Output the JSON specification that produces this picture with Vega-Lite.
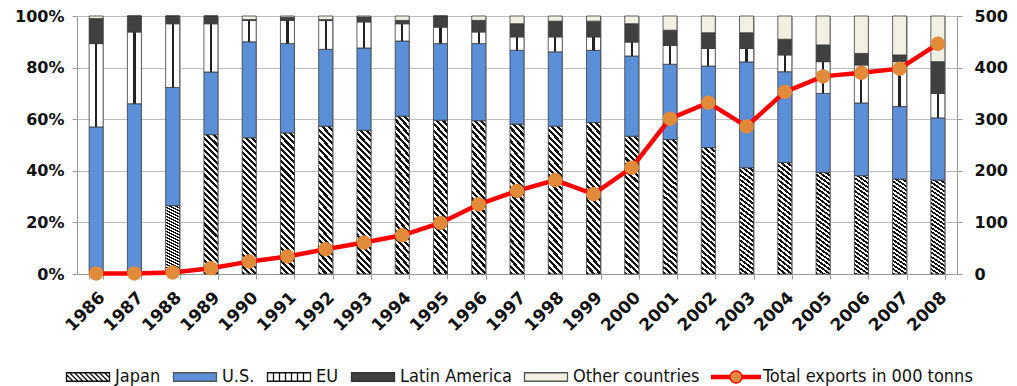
{
 "$schema": "https://vega.github.io/schema/vega-lite/v6.json",
 "width": 880,
 "height": 258,
 "autosize": {"type": "none"},
 "padding": {"left": 77, "top": 16, "right": 60, "bottom": 112},
 "background": "white",
 "config": {
  "view": {"stroke": null},
  "axis": {"labelFont": "DejaVu Sans", "labelFontWeight": "bold", "labelFontSize": 16, "labelColor": "#111", "domainColor": "#9a9a9a", "tickColor": "#9a9a9a", "gridColor": "#bdbdbd", "tickSize": 5},
  "legend": {"layout": {"bottom": {"anchor": "middle", "direction": "horizontal", "center": true, "margin": 0}},
             "orient": "bottom", "direction": "horizontal", "title": null, "symbolSize": 2500, "symbolStrokeWidth": 1.3, "symbolOpacity": 1,
             "labelFont": "DejaVu Sans Condensed, Liberation Sans Narrow, sans-serif", "labelFontSize": 18, "labelColor": "#111",
             "labelOffset": 1, "columnPadding": 8, "labelLimit": 300, "offset": 17}
 },
 "datasets": {
  "regionOrder": [
   {"region":"Japan","rank":1},{"region":"U.S.","rank":2},{"region":"EU","rank":3},{"region":"Latin America","rank":4},{"region":"Other countries","rank":5}
  ],
  "shares": [
   {"year":"1986","region":"Japan","share":0},{"year":"1986","region":"U.S.","share":57},{"year":"1986","region":"EU","share":32.3},{"year":"1986","region":"Latin America","share":9.7},{"year":"1986","region":"Other countries","share":1},
   {"year":"1987","region":"Japan","share":0},{"year":"1987","region":"U.S.","share":66},{"year":"1987","region":"EU","share":27.8},{"year":"1987","region":"Latin America","share":6.2},{"year":"1987","region":"Other countries","share":0},
   {"year":"1988","region":"Japan","share":26.5},{"year":"1988","region":"U.S.","share":45.8},{"year":"1988","region":"EU","share":24.7},{"year":"1988","region":"Latin America","share":3},{"year":"1988","region":"Other countries","share":0},
   {"year":"1989","region":"Japan","share":54},{"year":"1989","region":"U.S.","share":24.3},{"year":"1989","region":"EU","share":18.7},{"year":"1989","region":"Latin America","share":3},{"year":"1989","region":"Other countries","share":0},
   {"year":"1990","region":"Japan","share":52.8},{"year":"1990","region":"U.S.","share":37.2},{"year":"1990","region":"EU","share":8.3},{"year":"1990","region":"Latin America","share":0.3},{"year":"1990","region":"Other countries","share":1.4},
   {"year":"1991","region":"Japan","share":54.7},{"year":"1991","region":"U.S.","share":34.6},{"year":"1991","region":"EU","share":9},{"year":"1991","region":"Latin America","share":1.2},{"year":"1991","region":"Other countries","share":0.5},
   {"year":"1992","region":"Japan","share":57.3},{"year":"1992","region":"U.S.","share":29.8},{"year":"1992","region":"EU","share":11.2},{"year":"1992","region":"Latin America","share":0.3},{"year":"1992","region":"Other countries","share":1.4},
   {"year":"1993","region":"Japan","share":55.7},{"year":"1993","region":"U.S.","share":31.9},{"year":"1993","region":"EU","share":10.1},{"year":"1993","region":"Latin America","share":1.9},{"year":"1993","region":"Other countries","share":0.4},
   {"year":"1994","region":"Japan","share":61.2},{"year":"1994","region":"U.S.","share":29.1},{"year":"1994","region":"EU","share":6.7},{"year":"1994","region":"Latin America","share":1.3},{"year":"1994","region":"Other countries","share":1.7},
   {"year":"1995","region":"Japan","share":59.6},{"year":"1995","region":"U.S.","share":29.7},{"year":"1995","region":"EU","share":6.4},{"year":"1995","region":"Latin America","share":4.3},{"year":"1995","region":"Other countries","share":0},
   {"year":"1996","region":"Japan","share":59.4},{"year":"1996","region":"U.S.","share":29.9},{"year":"1996","region":"EU","share":4.5},{"year":"1996","region":"Latin America","share":4.5},{"year":"1996","region":"Other countries","share":1.7},
   {"year":"1997","region":"Japan","share":58.1},{"year":"1997","region":"U.S.","share":28.6},{"year":"1997","region":"EU","share":5.2},{"year":"1997","region":"Latin America","share":5.1},{"year":"1997","region":"Other countries","share":3},
   {"year":"1998","region":"Japan","share":57.3},{"year":"1998","region":"U.S.","share":28.8},{"year":"1998","region":"EU","share":5.8},{"year":"1998","region":"Latin America","share":6.1},{"year":"1998","region":"Other countries","share":2},
   {"year":"1999","region":"Japan","share":58.7},{"year":"1999","region":"U.S.","share":28},{"year":"1999","region":"EU","share":5.2},{"year":"1999","region":"Latin America","share":6.1},{"year":"1999","region":"Other countries","share":2},
   {"year":"2000","region":"Japan","share":53.4},{"year":"2000","region":"U.S.","share":31.1},{"year":"2000","region":"EU","share":5.4},{"year":"2000","region":"Latin America","share":7.1},{"year":"2000","region":"Other countries","share":3},
   {"year":"2001","region":"Japan","share":52.1},{"year":"2001","region":"U.S.","share":29.2},{"year":"2001","region":"EU","share":7.3},{"year":"2001","region":"Latin America","share":5.9},{"year":"2001","region":"Other countries","share":5.5},
   {"year":"2002","region":"Japan","share":49},{"year":"2002","region":"U.S.","share":31.6},{"year":"2002","region":"EU","share":6.8},{"year":"2002","region":"Latin America","share":6.1},{"year":"2002","region":"Other countries","share":6.5},
   {"year":"2003","region":"Japan","share":41.2},{"year":"2003","region":"U.S.","share":41},{"year":"2003","region":"EU","share":5.2},{"year":"2003","region":"Latin America","share":6.1},{"year":"2003","region":"Other countries","share":6.5},
   {"year":"2004","region":"Japan","share":43.2},{"year":"2004","region":"U.S.","share":35.2},{"year":"2004","region":"EU","share":6.5},{"year":"2004","region":"Latin America","share":6.1},{"year":"2004","region":"Other countries","share":9},
   {"year":"2005","region":"Japan","share":39.4},{"year":"2005","region":"U.S.","share":30.6},{"year":"2005","region":"EU","share":12.3},{"year":"2005","region":"Latin America","share":6.5},{"year":"2005","region":"Other countries","share":11.2},
   {"year":"2006","region":"Japan","share":38.1},{"year":"2006","region":"U.S.","share":28.2},{"year":"2006","region":"EU","share":14.7},{"year":"2006","region":"Latin America","share":4.5},{"year":"2006","region":"Other countries","share":14.5},
   {"year":"2007","region":"Japan","share":36.8},{"year":"2007","region":"U.S.","share":28.1},{"year":"2007","region":"EU","share":17.4},{"year":"2007","region":"Latin America","share":2.6},{"year":"2007","region":"Other countries","share":15.1},
   {"year":"2008","region":"Japan","share":36.4},{"year":"2008","region":"U.S.","share":24.1},{"year":"2008","region":"EU","share":9.5},{"year":"2008","region":"Latin America","share":12.3},{"year":"2008","region":"Other countries","share":17.7}
  ],
  "totals": [
   {"year":"1986","total":1},{"year":"1987","total":1},{"year":"1988","total":3},{"year":"1989","total":11},{"year":"1990","total":24},{"year":"1991","total":34},{"year":"1992","total":48},{"year":"1993","total":61},{"year":"1994","total":75},{"year":"1995","total":99},{"year":"1996","total":135},{"year":"1997","total":161},{"year":"1998","total":182},{"year":"1999","total":155},{"year":"2000","total":206},{"year":"2001","total":301},{"year":"2002","total":332},{"year":"2003","total":286},{"year":"2004","total":353},{"year":"2005","total":383},{"year":"2006","total":390},{"year":"2007","total":398},{"year":"2008","total":446}
  ]
 },
 "layer": [
  {
   "data": {"name": "shares"},
   "transform": [{"lookup": "region", "from": {"data": {"name": "regionOrder"}, "key": "region", "fields": ["rank"]}}],
   "mark": {"type": "bar", "stroke": "#3a3a3a", "strokeWidth": 0.8},
   "encoding": {
    "x": {"field": "year", "type": "nominal", "scale": {"paddingInner": 0.634, "paddingOuter": 0.317},
          "axis": {"title": null, "labelAngle": -45, "labelFontSize": 17, "tickBand": "extent", "grid": true, "labelPadding": 10}},
    "y": {"field": "share", "type": "quantitative", "stack": "normalize", "scale": {"domain": [0, 1], "nice": false},
          "axis": {"title": null, "orient": "left", "values": [0, 0.2, 0.4, 0.6, 0.8, 1], "format": ".0%", "grid": true, "labelPadding": 8}},
    "order": {"field": "rank", "type": "quantitative", "sort": "ascending"},
    "color": {"field": "region", "type": "nominal", "legend": null,
             "scale": {"domain": ["Japan", "U.S.", "EU", "Latin America", "Other countries"], "range": ["#666666", "#5b8fd8", "#e8e8e8", "#404040", "#f1f0e2"]},
             "condition": [
              {"test": "datum.region === 'Japan'", "value": {"gradient": "linear", "x1": 0, "y1": 1, "x2": 0.109, "y2": -0.089, "stops": [
               {"offset":0,"color":"#111"},{"offset":0.02,"color":"#111"},{"offset":0.02,"color":"#fff"},{"offset":0.04,"color":"#fff"},
               {"offset":0.04,"color":"#111"},{"offset":0.06,"color":"#111"},{"offset":0.06,"color":"#fff"},{"offset":0.08,"color":"#fff"},
               {"offset":0.08,"color":"#111"},{"offset":0.1,"color":"#111"},{"offset":0.1,"color":"#fff"},{"offset":0.12,"color":"#fff"},
               {"offset":0.12,"color":"#111"},{"offset":0.14,"color":"#111"},{"offset":0.14,"color":"#fff"},{"offset":0.16,"color":"#fff"},
               {"offset":0.16,"color":"#111"},{"offset":0.18,"color":"#111"},{"offset":0.18,"color":"#fff"},{"offset":0.2,"color":"#fff"},
               {"offset":0.2,"color":"#111"},{"offset":0.22,"color":"#111"},{"offset":0.22,"color":"#fff"},{"offset":0.24,"color":"#fff"},
               {"offset":0.24,"color":"#111"},{"offset":0.26,"color":"#111"},{"offset":0.26,"color":"#fff"},{"offset":0.28,"color":"#fff"},
               {"offset":0.28,"color":"#111"},{"offset":0.3,"color":"#111"},{"offset":0.3,"color":"#fff"},{"offset":0.32,"color":"#fff"},
               {"offset":0.32,"color":"#111"},{"offset":0.34,"color":"#111"},{"offset":0.34,"color":"#fff"},{"offset":0.36,"color":"#fff"},
               {"offset":0.36,"color":"#111"},{"offset":0.38,"color":"#111"},{"offset":0.38,"color":"#fff"},{"offset":0.4,"color":"#fff"},
               {"offset":0.4,"color":"#111"},{"offset":0.42,"color":"#111"},{"offset":0.42,"color":"#fff"},{"offset":0.44,"color":"#fff"},
               {"offset":0.44,"color":"#111"},{"offset":0.46,"color":"#111"},{"offset":0.46,"color":"#fff"},{"offset":0.48,"color":"#fff"},
               {"offset":0.48,"color":"#111"},{"offset":0.5,"color":"#111"},{"offset":0.5,"color":"#fff"},{"offset":0.52,"color":"#fff"},
               {"offset":0.52,"color":"#111"},{"offset":0.54,"color":"#111"},{"offset":0.54,"color":"#fff"},{"offset":0.56,"color":"#fff"},
               {"offset":0.56,"color":"#111"},{"offset":0.58,"color":"#111"},{"offset":0.58,"color":"#fff"},{"offset":0.6,"color":"#fff"},
               {"offset":0.6,"color":"#111"},{"offset":0.62,"color":"#111"},{"offset":0.62,"color":"#fff"},{"offset":0.64,"color":"#fff"},
               {"offset":0.64,"color":"#111"},{"offset":0.66,"color":"#111"},{"offset":0.66,"color":"#fff"},{"offset":0.68,"color":"#fff"},
               {"offset":0.68,"color":"#111"},{"offset":0.7,"color":"#111"},{"offset":0.7,"color":"#fff"},{"offset":0.72,"color":"#fff"},
               {"offset":0.72,"color":"#111"},{"offset":0.74,"color":"#111"},{"offset":0.74,"color":"#fff"},{"offset":0.76,"color":"#fff"},
               {"offset":0.76,"color":"#111"},{"offset":0.78,"color":"#111"},{"offset":0.78,"color":"#fff"},{"offset":0.8,"color":"#fff"},
               {"offset":0.8,"color":"#111"},{"offset":0.82,"color":"#111"},{"offset":0.82,"color":"#fff"},{"offset":0.84,"color":"#fff"},
               {"offset":0.84,"color":"#111"},{"offset":0.86,"color":"#111"},{"offset":0.86,"color":"#fff"},{"offset":0.88,"color":"#fff"},
               {"offset":0.88,"color":"#111"},{"offset":0.9,"color":"#111"},{"offset":0.9,"color":"#fff"},{"offset":0.92,"color":"#fff"},
               {"offset":0.92,"color":"#111"},{"offset":0.94,"color":"#111"},{"offset":0.94,"color":"#fff"},{"offset":0.96,"color":"#fff"},
               {"offset":0.96,"color":"#111"},{"offset":0.98,"color":"#111"},{"offset":0.98,"color":"#fff"},{"offset":1,"color":"#fff"}]}},
              {"test": "datum.region === 'EU'", "value": {"gradient": "linear", "x1": 0, "y1": 0, "x2": 1, "y2": 0, "stops": [
               {"offset":0,"color":"#fff"},{"offset":0.42,"color":"#fff"},{"offset":0.42,"color":"#222"},{"offset":0.58,"color":"#222"},{"offset":0.58,"color":"#fff"},{"offset":1,"color":"#fff"}]}}
             ]}
   }
  },
  {
   "data": {"name": "shares"},
   "mark": {"type": "point", "filled": true, "opacity": 0},
   "encoding": {
    "x": {"field": "year", "type": "nominal"},
    "y": {"field": "share", "type": "quantitative", "scale": {"domain": [0, 100]}, "axis": null},
    "shape": {"field": "region", "type": "nominal",
              "scale": {"domain": ["Japan", "U.S.", "EU", "Latin America", "Other countries", "Total exports in 000 tonns"],
                        "range": [
                         "M-0.86,-0.17H0.86V0.17H-0.86ZM-0.86,0.11L-0.8,0.17M-0.86,-0.09L-0.6,0.17M-0.74,-0.17L-0.4,0.17M-0.54,-0.17L-0.2,0.17M-0.34,-0.17L0,0.17M-0.14,-0.17L0.2,0.17M0.06,-0.17L0.4,0.17M0.26,-0.17L0.6,0.17M0.46,-0.17L0.8,0.17M0.66,-0.17L0.86,0.03",
                         "M-0.86,-0.17H0.86V0.17H-0.86Z",
                         "M-0.86,-0.17H0.86V0.17H-0.86ZM-0.62,-0.17V0.17M-0.38,-0.17V0.17M-0.14,-0.17V0.17M0.1,-0.17V0.17M0.34,-0.17V0.17M0.58,-0.17V0.17",
                         "M-0.86,-0.17H0.86V0.17H-0.86Z",
                         "M-0.86,-0.17H0.86V0.17H-0.86Z",
                         "M-1,-0.06H-0.22M-1,-0.02H-0.24M-1,0.02H-0.24M-1,0.06H-0.22M0.22,-0.06H1M0.24,-0.02H1M0.24,0.02H1M0.22,0.06H1M0.24,0A0.24,0.24,0,1,1,-0.24,0A0.24,0.24,0,1,1,0.24,0Z"]}},
    "fill": {"field": "region", "type": "nominal",
             "scale": {"domain": ["Japan", "U.S.", "EU", "Latin America", "Other countries", "Total exports in 000 tonns"],
                       "range": ["#ffffff", "#5b8fd8", "#ffffff", "#404040", "#f1f0e2", "#e08a3a"]}},
    "stroke": {"field": "region", "type": "nominal",
               "scale": {"domain": ["Japan", "U.S.", "EU", "Latin America", "Other countries", "Total exports in 000 tonns"],
                         "range": ["#111111", "#555555", "#111111", "#333333", "#555555", "#ff0000"]}}
   }
  },
  {
   "data": {"name": "totals"},
   "mark": {"type": "line", "color": "#ff0000", "strokeWidth": 4.5},
   "encoding": {
    "x": {"field": "year", "type": "nominal"},
    "y": {"field": "total", "type": "quantitative", "scale": {"domain": [0, 500], "nice": false},
          "axis": {"title": null, "orient": "right", "values": [0, 100, 200, 300, 400, 500], "grid": false, "labelPadding": 12}}
   }
  },
  {
   "data": {"name": "totals"},
   "mark": {"type": "point", "filled": true, "size": 210, "color": "#e08a3a", "opacity": 1},
   "encoding": {
    "x": {"field": "year", "type": "nominal"},
    "y": {"field": "total", "type": "quantitative", "scale": {"domain": [0, 500], "nice": false}, "axis": null}
   }
  }
 ],
 "resolve": {"scale": {"y": "independent"}}
}
